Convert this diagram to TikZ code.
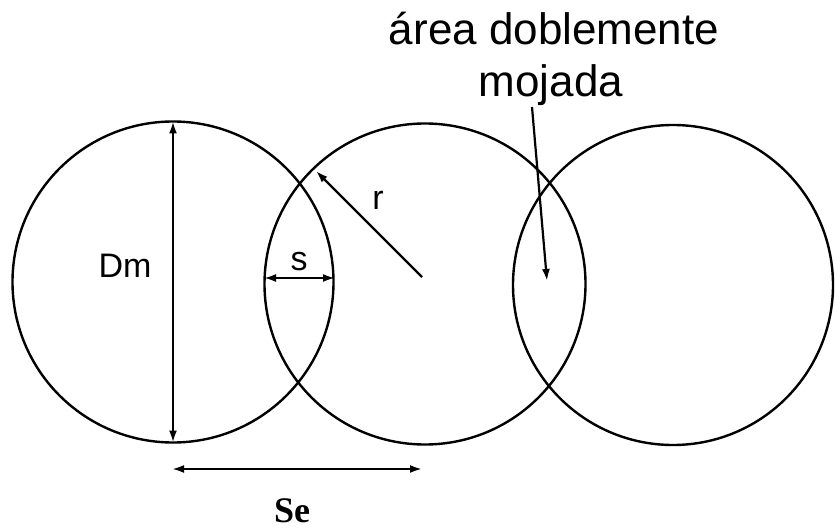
\documentclass[tikz,border=0pt]{standalone}
\usepackage{fontspec}
\setmainfont{Liberation Serif}
\setsansfont{Liberation Sans}
\usetikzlibrary{arrows.meta}
\tikzset{
  ring/.style={circle, draw, line width=2.4pt, minimum size=321pt, inner sep=0pt, outer sep=0pt},
  dimline/.style={line width=2.2pt, {Latex[length=12pt,width=8pt]}-{Latex[length=12pt,width=8pt]}},
  oneway/.style={line width=2.2pt, -{Latex[length=12pt,width=8pt]}},
  lab/.style={font=\sffamily\fontsize{34}{40}\selectfont, inner sep=0pt},
  title/.style={font=\sffamily\fontsize{44}{52}\selectfont, inner sep=0pt, anchor=base},
  selab/.style={font=\bfseries\fontsize{36}{42}\selectfont, inner sep=0pt}
}
\begin{document}
\begin{tikzpicture}[x=1pt,y=-1pt]
\useasboundingbox (0,0) rectangle (835,529);
\node[ring] (c1) at (173,282) {};
\node[ring] (c2) at (425,284) {};
\node[ring, minimum size=320pt] (c3) at (673,285) {};
% Dm
\draw[dimline] (c1.north) -- (c1.south);
\node[lab] (dm) at (125,266) {Dm};
% s
\coordinate (sL) at (264,278);
\coordinate (sR) at (335,278);
\draw[dimline] (sL) -- (sR);
\node[lab] (s) at (299,262) {s};
% r
\coordinate (rS) at (422,277);
\coordinate (rE) at (316,171);
\draw[oneway] (rS) -- (rE);
\node[lab] (r) at (378,200) {r};
% Se
\coordinate (seL) at (172,469);
\coordinate (seR) at (422,469);
\draw[dimline] (seL) -- (seR);
\node[selab] (se) at (292,511) {Se};
% title
\node[title] (t1) at (554,45) {área doblemente};
\node[title] (t2) at (551,97) {mojada};
\coordinate (aS) at (532,107);
\coordinate (aE) at (547,281);
\draw[oneway] (aS) -- (aE);
\end{tikzpicture}
\end{document}
